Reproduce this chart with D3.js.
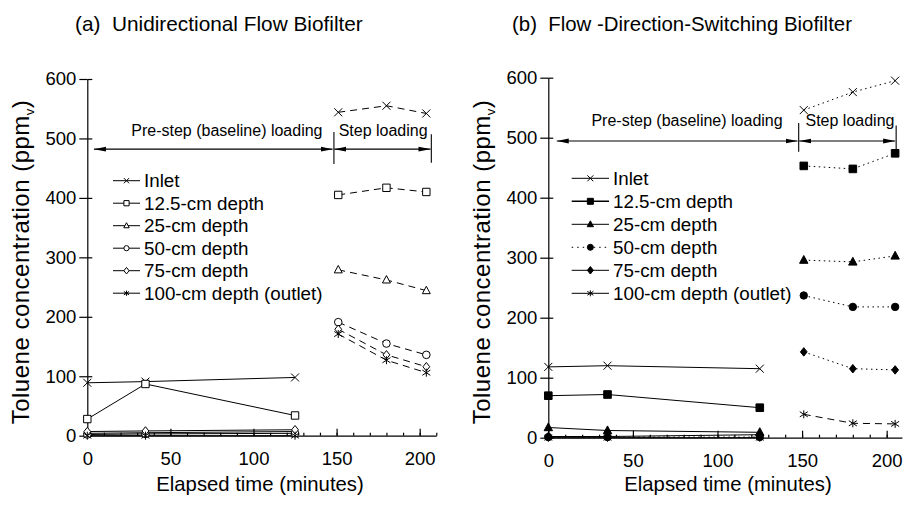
<!DOCTYPE html>
<html>
<head>
<meta charset="utf-8">
<script src="https://cdn.jsdelivr.net/npm/d3@7"></script>
<style>
  html, body { margin: 0; padding: 0; background: #fff; }
  svg text { font-family: "Liberation Sans", Arial, Helvetica, sans-serif; fill: #000; }
</style>
</head>
<body>
<svg id="chart" width="905" height="505"></svg>
<script>
// ---------------- DATA ----------------
const seriesNames = ["Inlet", "12.5-cm depth", "25-cm depth", "50-cm depth", "75-cm depth", "100-cm depth (outlet)"];
const markerTypes = ["x", "square", "triangle", "circle", "diamond", "asterisk"];

const preTime = [0, 35, 125];
const stepTimeA = [151, 180, 204];
const stepTimeB = [151, 180, 205];

// Panel (a) Unidirectional Flow Biofilter
const preA_inlet = [89, 91, 98];
const preA_d125 = [28, 87, 34];
const preA_d25 = [4, 5, 7];
const preA_d50 = [2, 3, 4];
const preA_d75 = [7, 8, 10];
const preA_d100 = [0, 0, 0];
const stepA_inlet = [544, 555, 542];
const stepA_d125 = [405, 417, 410];
const stepA_d25 = [279, 262, 244];
const stepA_d50 = [191, 155, 136];
const stepA_d75 = [179, 136, 116];
const stepA_d100 = [171, 127, 106];

// Panel (b) Flow-Direction-Switching Biofilter
const preB_inlet = [118, 120, 115];
const preB_d125 = [70, 72, 50];
const preB_d25 = [17, 12, 9];
const preB_d50 = [1, 1, 1];
const preB_d75 = [2, 2, 5];
const preB_d100 = [0, 0, 0];
const stepB_inlet = [546, 576, 595];
const stepB_d125 = [453, 448, 474];
const stepB_d25 = [296, 293, 303];
const stepB_d50 = [237, 218, 218];
const stepB_d75 = [143, 115, 113];
const stepB_d100 = [39, 24, 23];

const yTicks = [0, 100, 200, 300, 400, 500, 600];
const xTicks = [0, 50, 100, 150, 200];
const xMinorTicks = d3.range(0, 211, 10);

const titleA = "(a)  Unidirectional Flow Biofilter";
const titleB = "(b)  Flow -Direction-Switching Biofilter";
const xLabel = "Elapsed time (minutes)";
const preLabel = "Pre-step (baseline) loading";
const stepLabel = "Step loading";

// ---------------- DRAW ----------------
const svg = d3.select("#chart");
const defs = svg.append("defs");
defs.append("marker").attr("id", "arrEnd").attr("viewBox", "0 0 12 6")
  .attr("refX", 12).attr("refY", 3).attr("markerWidth", 12).attr("markerHeight", 6)
  .attr("markerUnits", "userSpaceOnUse").attr("orient", "auto")
  .append("path").attr("d", "M0,0.6L12,3L0,5.4Z").attr("fill", "#000");
defs.append("marker").attr("id", "arrStart").attr("viewBox", "0 0 12 6")
  .attr("refX", 0).attr("refY", 3).attr("markerWidth", 12).attr("markerHeight", 6)
  .attr("markerUnits", "userSpaceOnUse").attr("orient", "auto")
  .append("path").attr("d", "M12,0.6L0,3L12,5.4Z").attr("fill", "#000");

function markerPath(type, r) {
  switch (type) {
    case "x": return `M${-r},${-r}L${r},${r}M${-r},${r}L${r},${-r}`;
    case "square": return `M${-r},${-r}h${2*r}v${2*r}h${-2*r}Z`;
    case "triangle": return `M0,${-r*1.15}L${r*1.05},${r*0.8}L${-r*1.05},${r*0.8}Z`;
    case "circle": return `M${r},0A${r},${r} 0 1,1 ${-r},0A${r},${r} 0 1,1 ${r},0Z`;
    case "diamond": return `M0,${-r*1.25}L${r},0L0,${r*1.25}L${-r},0Z`;
    case "asterisk": return `M${-r},${-r*0.65}L${r},${r*0.65}M${-r},${r*0.65}L${r},${-r*0.65}M0,${-r}L0,${r}`;
  }
}

function panel(cfg) {
  const g = svg.append("g");
  const x = d3.scaleLinear().domain(cfg.xDomain).range(cfg.xRange);
  const y = d3.scaleLinear().domain([0, 600]).range(cfg.yRange);

  // title
  g.append("text").attr("x", cfg.titleX).attr("y", 31).style("white-space", "pre")
    .attr("font-size", cfg.titleSize).text(cfg.title);

  // y axis
  const yAx = g.append("g").attr("transform", `translate(${x(0)},0)`)
    .call(d3.axisLeft(y).tickValues(yTicks).tickSizeInner(8).tickSizeOuter(0).tickPadding(3));
  yAx.selectAll("text").attr("font-size", 18.5).attr("font-family", null);
  g.append("g").attr("transform", `translate(${x(0)},0)`)
    .call(d3.axisRight(y).tickValues(yTicks).tickSize(5).tickFormat(""))
    .call(s => s.select(".domain").remove());

  // x axis
  const xAx = g.append("g").attr("transform", `translate(0,${y(0)})`)
    .call(d3.axisBottom(x).tickValues(xTicks).tickSizeInner(-7).tickSizeOuter(0).tickPadding(16));
  xAx.selectAll("text").attr("font-size", 18.5).attr("font-family", null);
  g.append("g").attr("transform", `translate(0,${y(0)})`)
    .call(d3.axisBottom(x).tickValues(xMinorTicks.filter(v => v <= cfg.xDomain[1])).tickSize(-3).tickFormat(""))
    .call(s => s.select(".domain").remove());
  g.selectAll(".domain, .tick line").attr("stroke", "#000").attr("stroke-width", 1.2);

  // axis titles
  g.append("text").attr("x", cfg.xLabelX).attr("y", 491)
    .attr("text-anchor", "middle").attr("font-size", 20.3).text(xLabel);
  const yl = g.append("text").attr("transform", `translate(${cfg.yLabelX},262) rotate(-90)`)
    .attr("text-anchor", "middle").attr("font-size", 24).attr("letter-spacing", 0.5);
  yl.append("tspan").text("Toluene concentration (ppm");
  yl.append("tspan").attr("font-size", 13).attr("dy", 5).text("v");
  yl.append("tspan").attr("dy", -5).text(")");

  // annotation arrows
  const ann = g.append("g").attr("stroke", "#000").attr("stroke-width", 1.1);
  ann.append("line").attr("x1", x(cfg.arrow.x0)).attr("x2", x(cfg.arrow.x1))
    .attr("y1", y(cfg.arrow.y)).attr("y2", y(cfg.arrow.y))
    .attr("marker-start", "url(#arrStart)").attr("marker-end", "url(#arrEnd)");
  ann.append("line").attr("x1", x(cfg.arrow.x1 + 1)).attr("x2", x(cfg.arrow.x2))
    .attr("y1", y(cfg.arrow.y)).attr("y2", y(cfg.arrow.y))
    .attr("marker-start", "url(#arrStart)").attr("marker-end", "url(#arrEnd)");
  ann.append("line").attr("x1", x(cfg.arrow.v1)).attr("x2", x(cfg.arrow.v1))
    .attr("y1", y(cfg.arrow.vTop)).attr("y2", y(cfg.arrow.vBot));
  ann.append("line").attr("x1", x(cfg.arrow.v2)).attr("x2", x(cfg.arrow.v2))
    .attr("y1", y(cfg.arrow.vTop - 4)).attr("y2", y(cfg.arrow.vBot + 2));
  g.append("text").attr("x", x(cfg.preText[0])).attr("y", y(cfg.preText[1]))
    .attr("text-anchor", "middle").attr("font-size", 16).text(preLabel);
  g.append("text").attr("x", x(cfg.stepText[0])).attr("y", y(cfg.preText[1]))
    .attr("text-anchor", "middle").attr("font-size", 16).text(stepLabel);

  // series
  const line = d3.line().x(d => x(d[0])).y(d => y(d[1]));
  cfg.series.forEach((s, i) => {
    const pre = preTime.map((t, k) => [t, s.pre[k]]);
    const step = cfg.stepTime.map((t, k) => [t, s.step[k]]);
    g.append("path").attr("d", line(pre)).attr("fill", "none").attr("stroke", "#000")
      .attr("stroke-width", 1).attr("stroke-dasharray", s.preDash || null);
    g.append("path").attr("d", line(step)).attr("fill", "none").attr("stroke", "#000")
      .attr("stroke-width", 1).attr("stroke-dasharray", s.stepDash || null);
  });
  cfg.series.forEach((s, i) => {
    const type = markerTypes[i];
    const pts = preTime.map((t, k) => [t, s.pre[k]]).concat(cfg.stepTime.map((t, k) => [t, s.step[k]]));
    const filled = cfg.filled && type !== "x" && type !== "asterisk";
    g.selectAll(null).data(pts).join("path")
      .attr("transform", d => `translate(${x(d[0])},${y(d[1])})`)
      .attr("d", markerPath(type, cfg.r[type]))
      .attr("fill", filled ? "#000" : "#fff").attr("stroke", "#000").attr("stroke-width", 1);
  });

  // legend
  const lg = g.append("g");
  cfg.series.forEach((s, i) => {
    const type = markerTypes[i];
    const yy = cfg.legend.y0 + i * cfg.legend.dy;
    lg.append("line").attr("x1", cfg.legend.x0).attr("x2", cfg.legend.x1)
      .attr("y1", yy).attr("y2", yy).attr("stroke", "#000")
      .attr("stroke-width", s.legendWidth || 1).attr("stroke-dasharray", s.legendDash || null);
    const filled = cfg.filled && type !== "x" && type !== "asterisk";
    lg.append("path").attr("transform", `translate(${(cfg.legend.x0 + cfg.legend.x1) / 2},${yy})`)
      .attr("d", markerPath(type, cfg.legend.r))
      .attr("fill", filled ? "#000" : "#fff").attr("stroke", "#000").attr("stroke-width", 1);
    lg.append("text").attr("x", cfg.legend.x1 + 4).attr("y", yy).attr("dy", "0.36em")
      .attr("font-size", 18.8).text(seriesNames[i]);
  });
}

panel({
  title: titleA, titleX: 75, titleSize: 20.8,
  xDomain: [0, 210], xRange: [87.3, 436.3], yRange: [435.7, 79],
  yLabelX: 29, xLabelX: 260,
  stepTime: stepTimeA,
  filled: false,
  r: { x: 4, square: 3.7, triangle: 3.8, circle: 3.8, diamond: 3.4, asterisk: 4 },
  arrow: { y: 482, x0: 4, x1: 147.6, x2: 206.5, v1: 148.4, v2: 207, vTop: 511, vBot: 457 },
  preText: [84, 504], stepText: [178, 504],
  legend: { x0: 113, x1: 140, y0: 180.7, dy: 22.5, r: 2.6 },
  series: [
    { pre: preA_inlet, step: stepA_inlet, stepDash: "7,5" },
    { pre: preA_d125, step: stepA_d125, stepDash: "7,5" },
    { pre: preA_d25, step: stepA_d25, stepDash: "7,5" },
    { pre: preA_d50, step: stepA_d50, stepDash: "7,5" },
    { pre: preA_d75, step: stepA_d75, stepDash: "7,5" },
    { pre: preA_d100, step: stepA_d100, stepDash: "7,5" }
  ]
});

panel({
  title: titleB, titleX: 512, titleSize: 20.4,
  xDomain: [0, 209], xRange: [548.3, 901.9], yRange: [437.7, 77.7],
  yLabelX: 490, xLabelX: 728,
  stepTime: stepTimeB,
  filled: true,
  r: { x: 4, square: 3.8, triangle: 4, circle: 3.7, diamond: 3.4, asterisk: 4 },
  arrow: { y: 494.5, x0: 5, x1: 147.3, x2: 205, v1: 148, v2: 205.6, vTop: 524.5, vBot: 476.7 },
  preText: [82, 519.5], stepText: [178.3, 519.5],
  legend: { x0: 571.7, x1: 609, y0: 178.3, dy: 23, r: 3 },
  series: [
    { pre: preB_inlet, step: stepB_inlet, stepDash: "1.5,3.5" },
    { pre: preB_d125, step: stepB_d125, stepDash: "1.5,3.5", legendWidth: 1.6 },
    { pre: preB_d25, step: stepB_d25, stepDash: "1.5,3.5" },
    { pre: preB_d50, step: stepB_d50, preDash: "1.5,3.5", stepDash: "1.5,3.5", legendDash: "1.5,4" },
    { pre: preB_d75, step: stepB_d75, stepDash: "1.5,3.5" },
    { pre: preB_d100, step: stepB_d100, stepDash: "7,5" }
  ]
});
</script>
</body>
</html>
